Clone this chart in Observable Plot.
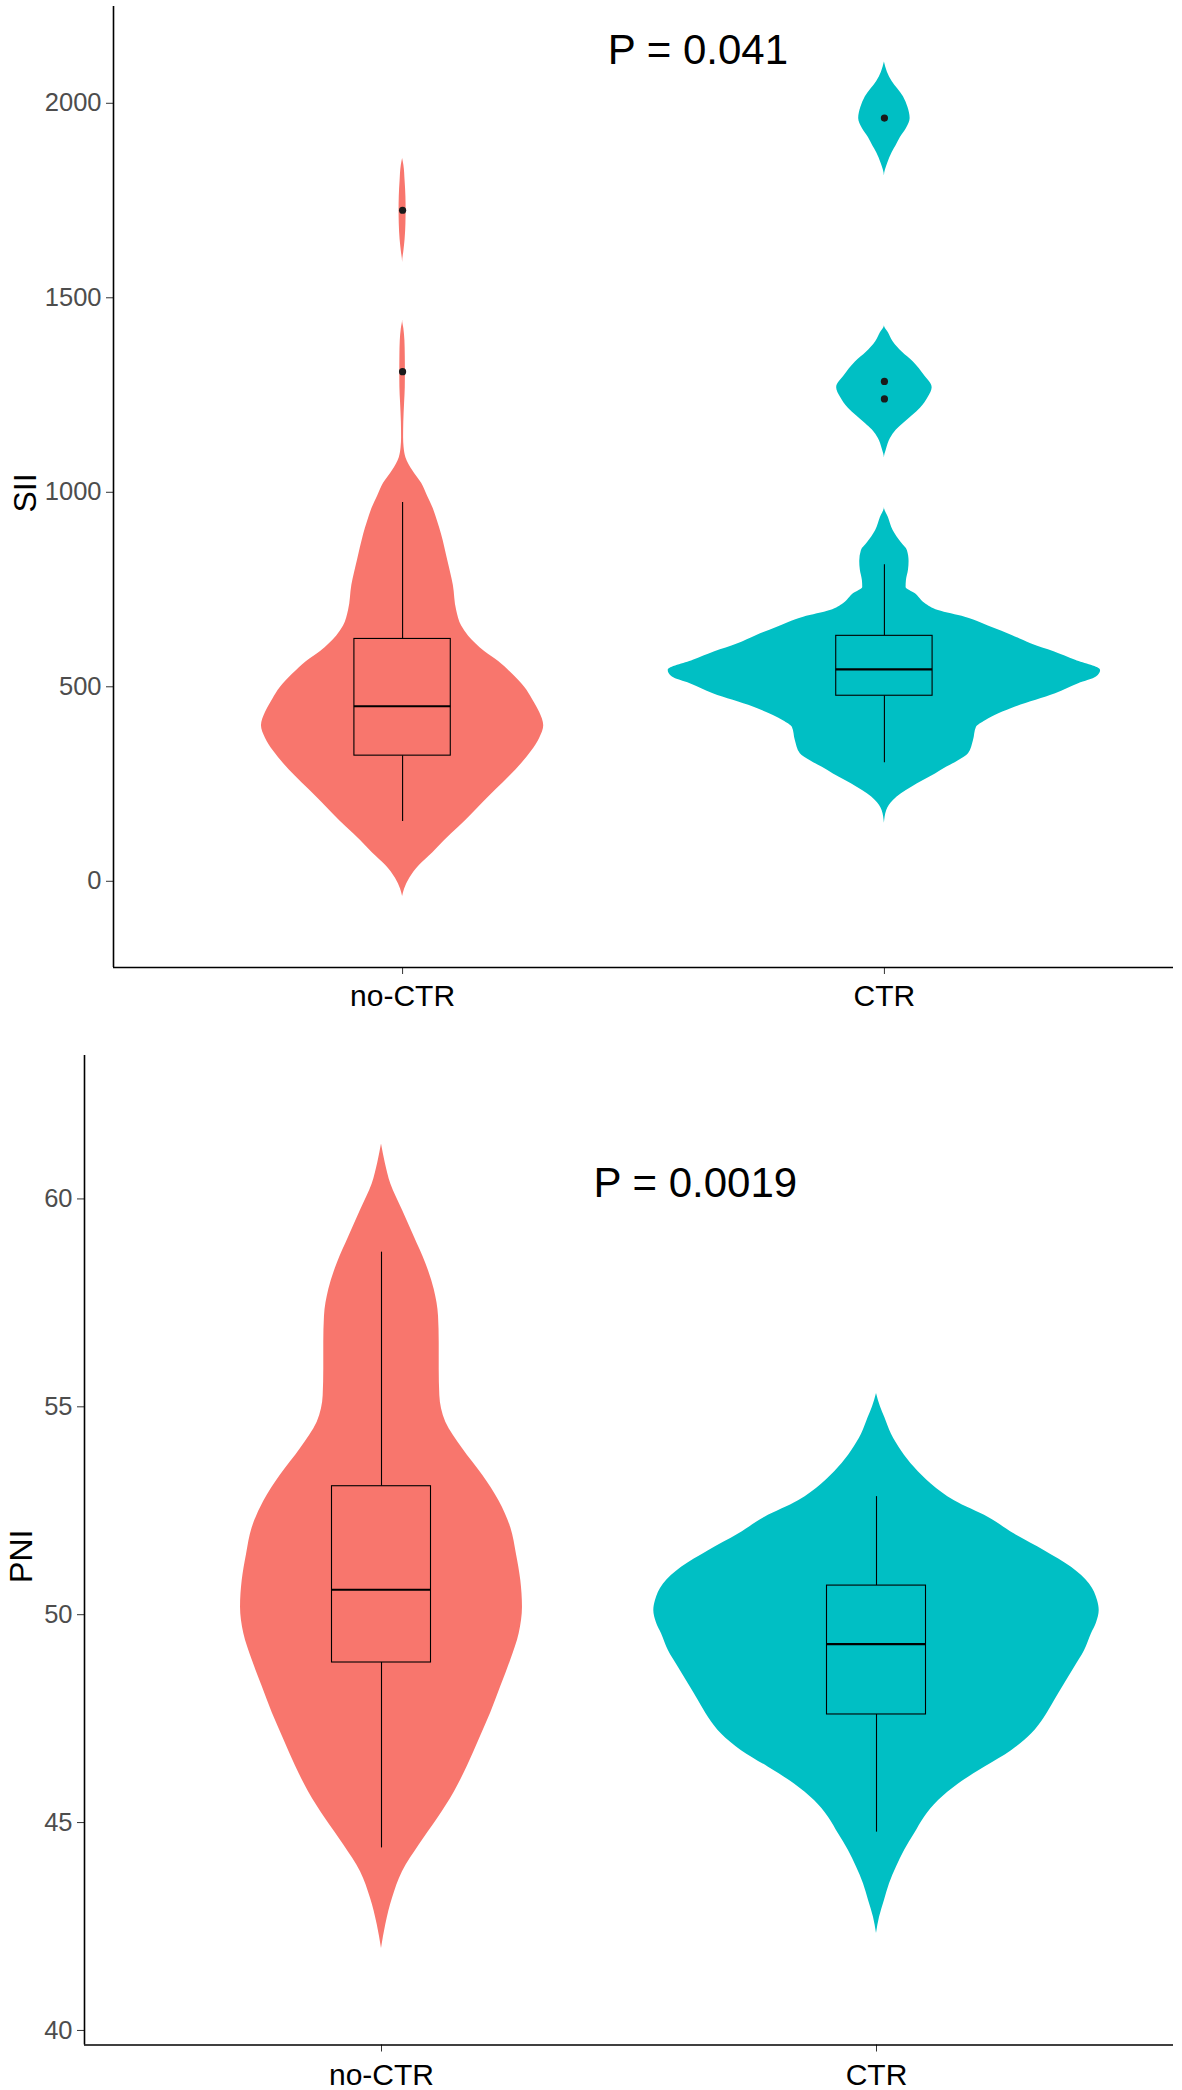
<!DOCTYPE html>
<html><head><meta charset="utf-8">
<script src="https://cdn.jsdelivr.net/npm/d3@7"></script>
<script src="https://cdn.jsdelivr.net/npm/@observablehq/plot@0.6"></script>
<style>
body{margin:0;background:#fff;}
#chart svg{display:block;}
</style>
</head><body><div id="chart"></div>
<script>
// ---------- data ----------
const groups = ["no-CTR", "CTR"];
const groupColors = ["#F8766D", "#00BFC4"];

// SII violin profiles: value and half-width (in category units)
const siiNoCtrY = [1858,1840,1800,1760,1725,1690,1650,1620,1591,1520,1443,1420,1390,1350,1310,1270,1230,1180,1140,1115,1089,1056,1023,990,958,925,891,826,761,696,656,630,591,565,532,499,467,434,400,368,335,303,270,237,204,172,139,105,73,41,7,-20,-39];
const siiNoCtrW = [0,0.0027,0.0052,0.0069,0.0073,0.0069,0.0052,0.0027,0,0,0,0.0027,0.0048,0.0056,0.0058,0.0056,0.0042,0.0025,0.0021,0.0031,0.0069,0.0208,0.0395,0.0519,0.0638,0.0727,0.081,0.0935,0.1053,0.1122,0.1226,0.1371,0.1703,0.1994,0.2285,0.2534,0.27,0.2846,0.2929,0.2846,0.268,0.2472,0.2223,0.1953,0.1683,0.1433,0.1163,0.0872,0.0623,0.0353,0.0145,0.0042,0];
const siiCtrY = [2106,2080,2056,2017,1990,1961,1935,1912,1890,1873,1846,1813,1428,1410,1387,1360,1335,1300,1269,1245,1216,1177,1160,1138,1110,1088,961,935,902,870,850,823,800,773,755,739,714,696,679,653,632,610,590,568,542,525,508,482,448,413,396,362,328,310,293,276,259,242,225,208,182,149];
const siiCtrW = [0,0.0062,0.016,0.0395,0.0488,0.0534,0.0457,0.0332,0.0239,0.016,0.0069,0,0,0.0083,0.0181,0.0374,0.0602,0.0831,0.0991,0.0914,0.0748,0.0395,0.0249,0.0125,0.0042,0,0,0.0083,0.0181,0.0353,0.0478,0.0512,0.05,0.0457,0.045,0.0644,0.0845,0.1122,0.1676,0.2223,0.265,0.3054,0.352,0.3968,0.4487,0.44,0.403,0.3552,0.2721,0.2098,0.1911,0.1849,0.1745,0.1537,0.1288,0.1059,0.081,0.0567,0.0353,0.0187,0.0048,0];

// PNI violin profiles
const pniNoCtrY = [61.32,60.87,60.36,59.73,59.09,58.45,57.82,57.18,56.54,55.91,55.27,54.63,54.0,53.36,52.73,52.09,51.45,50.82,50.18,49.55,48.91,48.27,47.64,47.0,46.36,45.73,45.09,44.46,43.82,43.18,42.55,41.97];
const pniNoCtrW = [0,0.0075,0.0188,0.0424,0.0661,0.0895,0.1065,0.1152,0.1166,0.1166,0.1178,0.1299,0.1636,0.204,0.2378,0.2612,0.2727,0.2814,0.2848,0.2782,0.2612,0.241,0.2208,0.1974,0.1737,0.1469,0.1131,0.0762,0.0424,0.0222,0.0087,0];
const pniCtrY = [55.32,55.0,54.74,54.34,53.94,53.54,53.14,52.74,52.34,51.94,51.54,51.14,50.74,50.34,50.1,49.8,49.54,49.13,48.73,48.33,47.93,47.53,47.13,46.73,46.33,45.93,45.53,45.13,44.73,44.33,43.93,43.53,43.13,42.72,42.33];
const pniCtrW = [0,0.008,0.0168,0.0303,0.0505,0.0768,0.1111,0.1576,0.2263,0.2788,0.3394,0.3939,0.4303,0.4465,0.4499,0.4444,0.4343,0.4202,0.4,0.3798,0.3596,0.3394,0.3131,0.2727,0.2182,0.1657,0.1253,0.097,0.0768,0.0566,0.0404,0.0263,0.0162,0.0061,0];

// boxplot statistics [no-CTR, CTR]
const siiMin = [154, 305];
const siiQ1 = [323, 477];
const siiMedian = [450, 545];
const siiQ3 = [623, 631];
const siiMax = [974, 814];
const siiOutlierGroup = [1, 1, 2, 2, 2];
const siiOutlierValue = [1310, 1725, 1240, 1285, 1962];

const pniMin = [44.39, 44.77];
const pniQ1 = [48.85, 47.60];
const pniMedian = [50.60, 49.29];
const pniQ3 = [53.09, 50.70];
const pniMax = [58.72, 52.84];
const pniOutlierGroup = [];
const pniOutlierValue = [];

const siiTicks = [0, 500, 1000, 1500, 2000];
const pniTicks = [40, 45, 50, 55, 60];

const siiPText = ["P = 0.041"];
const siiPPos = [1.613, 2136];
const pniPText = ["P = 0.0019"];
const pniPPos = [1.634, 60.38];

// ---------- drawing ----------
const FONT = "'Liberation Sans', Arial, Helvetica, sans-serif";

function profile(g, ys, ws) {
  return ys.map((v, i) => ({g, v, w: ws[i]}));
}

function panel(cfg) {
  const boxes = groups.map((name, i) => ({
    g: i + 1, min: cfg.min[i], q1: cfg.q1[i], med: cfg.med[i], q3: cfg.q3[i], max: cfg.max[i]
  }));
  const outliers = cfg.outG.map((g, i) => ({g, v: cfg.outV[i]}));
  const marks = [];
  cfg.violins.forEach((rows, i) => {
    marks.push(Plot.areaX(rows, {
      y: "v", x1: d => d.g - d.w, x2: d => d.g + d.w,
      fill: groupColors[i], curve: "monotone-y"
    }));
  });
  marks.push(
    Plot.ruleX(boxes, {x: "g", y1: "q3", y2: "max", stroke: "#000", strokeWidth: 1.1}),
    Plot.ruleX(boxes, {x: "g", y1: "min", y2: "q1", stroke: "#000", strokeWidth: 1.1}),
    Plot.rect(boxes, {
      x1: d => d.g - 0.1, x2: d => d.g + 0.1, y1: "q1", y2: "q3",
      fill: (d) => groupColors[d.g - 1], stroke: "#000", strokeWidth: 1.1
    }),
    Plot.ruleY(boxes, {y: "med", x1: d => d.g - 0.1, x2: d => d.g + 0.1, stroke: "#000", strokeWidth: 2.2}),
    Plot.dot(outliers, {x: "g", y: "v", r: 3.6, fill: "#1a1a1a", stroke: "none"}),
    Plot.text(cfg.pText, {x: () => cfg.pPos[0], y: () => cfg.pPos[1], text: d => d,
      fontSize: 42, fill: "#000", textAnchor: "middle", lineAnchor: "middle"}),
    Plot.axisY(cfg.ticks, {tickSize: 7, tickPadding: 5, fontSize: 25.5, color: "#4D4D4D",
      stroke: "#333", tickFormat: d => String(d), label: null}),
    Plot.axisX([1, 2], {tickSize: 7, tickPadding: cfg.xPad, fontSize: 30, color: "#000",
      stroke: "#333", tickFormat: d => groups[d - 1], label: null}),
    Plot.ruleX([0.4], {stroke: "#000", strokeWidth: 1.6}),
    Plot.ruleY([cfg.yDomain[0]], {stroke: "#000", strokeWidth: 1.6}),
    Plot.text([cfg.yLabel], {frameAnchor: "left", dx: cfg.labelX - cfg.ml, dy: cfg.labelDy,
      rotate: -90, fontSize: 32, fill: "#000", text: d => d, textAnchor: "middle", lineAnchor: "middle"})
  );
  return Plot.plot({
    width: 1182, height: cfg.height,
    marginLeft: cfg.ml, marginRight: cfg.mr, marginTop: cfg.mt, marginBottom: cfg.mb,
    style: {fontFamily: FONT, background: "#fff", overflow: "visible"},
    x: {type: "linear", domain: [0.4, 2.6], axis: null},
    y: {type: "linear", domain: cfg.yDomain, axis: null},
    marks
  });
}

const siiPanel = panel({
  height: 1040, ml: 113, mr: 9, mt: 6, mb: 73,
  yDomain: [-221.6, 2248.8], ticks: siiTicks, yLabel: "SII", labelX: 25, labelDy: 6,
  xPad: 10,
  violins: [profile(1, siiNoCtrY, siiNoCtrW), profile(2, siiCtrY, siiCtrW)],
  min: siiMin, q1: siiQ1, med: siiMedian, q3: siiQ3, max: siiMax,
  outG: siiOutlierGroup, outV: siiOutlierValue,
  pText: siiPText, pPos: siiPPos
});
const pniPanel = panel({
  height: 1050, ml: 84, mr: 9, mt: 15, mb: 45.5,
  yDomain: [39.65, 63.45], ticks: pniTicks, yLabel: "PNI", labelX: 21.5, labelDy: 6,
  xPad: 12,
  violins: [profile(1, pniNoCtrY, pniNoCtrW), profile(2, pniCtrY, pniCtrW)],
  min: pniMin, q1: pniQ1, med: pniMedian, q3: pniQ3, max: pniMax,
  outG: pniOutlierGroup, outV: pniOutlierValue,
  pText: pniPText, pPos: pniPPos
});
const el = document.getElementById("chart");
el.appendChild(siiPanel);
el.appendChild(pniPanel);
</script>
</body></html>
